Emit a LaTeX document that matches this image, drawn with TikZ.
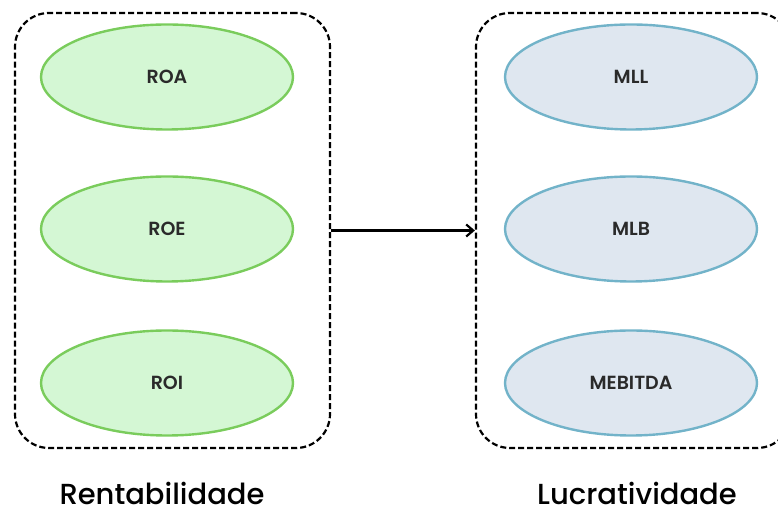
\documentclass[tikz,border=0pt]{standalone}
\usepackage{fontspec}
\setmainfont{Poppins}
\newfontfamily\popsemi{Poppins SemiBold}
\newfontfamily\popmed{Poppins Medium}
\usetikzlibrary{shapes.geometric,arrows.meta}
\definecolor{gfill}{HTML}{D4F7D4}
\definecolor{gline}{HTML}{7ACC5C}
\definecolor{bfill}{HTML}{DFE7F0}
\definecolor{bline}{HTML}{72B3C9}
\definecolor{txt}{HTML}{2A2A2A}
\tikzset{
  x=1pt,y=1pt,
  groupbox/.style={draw=black,line width=2.2pt,dash pattern=on 6pt off 3pt,rounded corners=34pt,minimum width=315pt,minimum height=435pt,inner sep=0pt},
  gell/.style={ellipse,draw=gline,fill=gfill,line width=2.4pt,minimum width=252pt,minimum height=105pt,inner sep=0pt,font=\popsemi\fontsize{19}{21}\selectfont,text=txt},
  bell/.style={ellipse,draw=bline,fill=bfill,line width=2.4pt,minimum width=252pt,minimum height=105pt,inner sep=0pt,font=\popsemi\fontsize{19}{21}\selectfont,text=txt},
  grouplabel/.style={font=\popmed\fontsize{29}{31}\selectfont,text=black,anchor=base,inner sep=0pt},
  conn/.style={line width=2.2pt,-{Straight Barb[length=7pt,width=12pt,line width=2.2pt]}}
}
\begin{document}
\begin{tikzpicture}
\useasboundingbox (0,0) rectangle (778,513);
\clip (0,0) rectangle (778,513);
\node[groupbox] (lbox) at (172.5,282.5) {};
\node[groupbox] (rbox) at (633.5,282.5) {};
\node[gell] (roa) at (167,436) {ROA};
\node[gell] (roe) at (167,284) {ROE};
\node[gell] (roi) at (167,130) {ROI};
\node[bell] (mll) at (631,436) {MLL};
\node[bell] (mlb) at (631,284) {MLB};
\node[bell] (meb) at (631,130) {MEBITDA};
\draw[conn] (lbox.east) -- (rbox.west);
\node[grouplabel] (lrent) at (162,8) {Rentabilidade};
\node[grouplabel] (llucr) at (637,8) {Lucratividade};
\end{tikzpicture}
\end{document}
